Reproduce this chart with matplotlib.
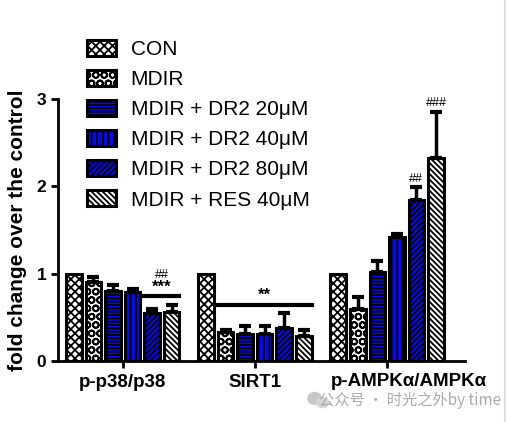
import matplotlib
matplotlib.use("Agg")
import matplotlib.pyplot as plt
import numpy as np
from matplotlib.lines import Line2D
from matplotlib.patches import Ellipse

groups = ["p-p38/p38", "SIRT1", "p-AMPK\u03b1/AMPK\u03b1"]
series = ["CON", "MDIR", "MDIR + DR2 20\u03bcM", "MDIR + DR2 40\u03bcM",
          "MDIR + DR2 80\u03bcM", "MDIR + RES 40\u03bcM"]

# rows = series, cols = groups
means = [
    [1.00, 1.00, 1.00],
    [0.90, 0.33, 0.60],
    [0.80, 0.31, 1.02],
    [0.79, 0.31, 1.42],
    [0.55, 0.38, 1.84],
    [0.56, 0.29, 2.32],
]
errs = [
    [0.00, 0.00, 0.00],
    [0.06, 0.02, 0.13],
    [0.07, 0.09, 0.12],
    [0.03, 0.09, 0.03],
    [0.05, 0.17, 0.15],
    [0.08, 0.06, 0.53],
]

colors = ["white", "white", "#0a0ae6", "#0a0ae6", "#0a0ae6", "white"]
hatches = ["xxxx", "OO", "-----", "|||", "//////", "\\\\\\\\\\\\"]

plt.rcParams["font.family"] = ["Liberation Sans", "DejaVu Sans"]
plt.rcParams["hatch.linewidth"] = 1.3

fig = plt.figure(figsize=(5.14, 4.22), dpi=100)
ax = fig.add_axes([0.1128, 0.1445, 0.792, 0.621])

x = np.arange(len(groups))
pitch = 0.148
width = 0.118
handles = []
for i, name in enumerate(series):
    pos = x + (i - 2.5) * pitch
    b = ax.bar(pos, means[i], width, color=colors[i], edgecolor="black",
               hatch=hatches[i], linewidth=2.2, label=name, zorder=2)
    handles.append(b)
    if any(errs[i]):
        ax.errorbar(pos, means[i], yerr=[np.zeros(len(groups)), errs[i]],
                    fmt="none", ecolor="black", elinewidth=2.5, capsize=4,
                    capthick=3, zorder=3)

# significance marks
g1_80 = 0 + 1.5 * pitch
g1_res = 0 + 2.5 * pitch
ax.plot([g1_80 - width / 2, g1_res + width / 2], [0.74, 0.74], color="black", lw=3)
ax.text((g1_80 + g1_res) / 2, 0.76, "***", ha="center", va="bottom",
        fontsize=12, fontweight="bold")
ax.text((g1_80 + g1_res) / 2, 0.92, "##", ha="center", va="bottom", fontsize=9)

s_l = 1 - 1.5 * pitch - width / 2
s_r = 1 + 2.5 * pitch + width / 2
ax.plot([s_l, s_r], [0.64, 0.64], color="black", lw=3)
ax.text((s_l + s_r) / 2, 0.67, "**", ha="center", va="bottom",
        fontsize=12, fontweight="bold")

ax.text(2 + 1.5 * pitch, 2.02, "##", ha="center", va="bottom", fontsize=9)
ax.text(2 + 2.5 * pitch, 2.88, "###", ha="center", va="bottom", fontsize=9)

ax.set_xlim(-0.49, 2.59)
ax.set_ylim(0, 3)
ax.set_yticks([0, 1, 2, 3])
ax.set_xticks(x)
# last group label sits a bit right of its tick in the original
ax.set_xticklabels(groups[:2] + [""], fontsize=13.5, fontweight="bold")
ax.annotate(groups[2], xy=(x[2], 0), xycoords=("data", "axes fraction"),
            xytext=(22, -12), textcoords="offset pixels", ha="center", va="top",
            fontsize=13.5, fontweight="bold")
for lab in ax.get_yticklabels():
    lab.set_fontweight("bold")
    lab.set_fontsize(12.5)
ax.tick_params(axis="both", width=2, length=5, direction="out")
ax.tick_params(axis="x", pad=4)
for side in ["top", "right"]:
    ax.spines[side].set_visible(False)
for side in ["left", "bottom"]:
    ax.spines[side].set_linewidth(2)
ax.set_ylabel("fold change over the control", fontsize=15, fontweight="bold",
              labelpad=7)

fig.legend(handles=handles, loc="upper left", bbox_to_anchor=(0.169, 0.905),
           frameon=False, fontsize=15, handlelength=1.4, handleheight=0.8,
           labelspacing=0.52, handletextpad=0.7, borderpad=0, borderaxespad=0)

# watermark
fig.add_artist(Ellipse((0.612, 0.056), 0.026, 0.028, color="#c8c8c8",
                       transform=fig.transFigure))
fig.add_artist(Ellipse((0.628, 0.046), 0.022, 0.024, color="#d5d5d5",
                       transform=fig.transFigure))
fig.text(0.975, 0.05, "\u516c\u4f17\u53f7 \u00b7 \u65f6\u5149\u4e4b\u5916by time",
         ha="right", va="center", fontsize=11, color="#aaaaaa",
         family=["Noto Sans CJK SC", "DejaVu Sans"])
fig.add_artist(Line2D([0.983, 0.983], [0, 1], color="#dddddd", lw=1.5))

fig.savefig("out.png", dpi=100)
